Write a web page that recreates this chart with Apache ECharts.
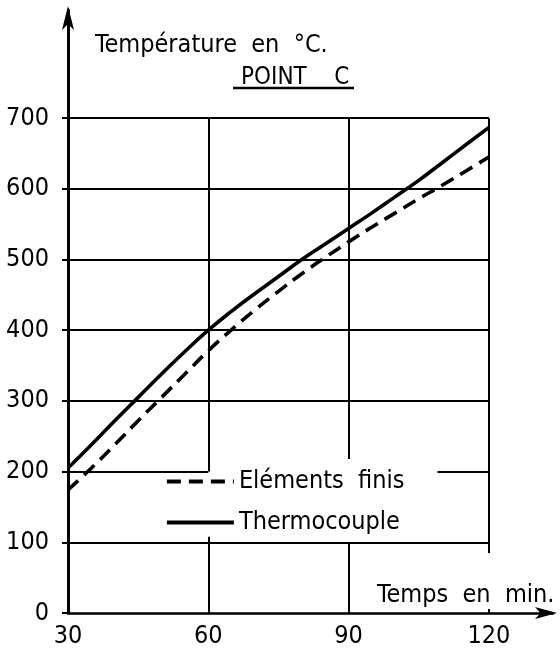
<!DOCTYPE html>
<html>
<head>
<meta charset="utf-8">
<script src="https://cdn.jsdelivr.net/npm/echarts@6/dist/echarts.min.js"></script>
<style>
html,body{margin:0;padding:0;background:#fff;}
#chart{width:560px;height:653px;}
</style>
</head>
<body>
<div id="chart"></div>
<script>
// ---- data ----
const xTickLabels = [30, 60, 90, 120];
const yTickLabels = [0, 100, 200, 300, 400, 500, 600, 700];
const timeMin = [30, 35, 40, 45, 50, 55, 60, 65, 70, 75, 80, 85, 90, 95, 100, 105, 110, 115, 120];
const thermocouple = [205, 238, 272, 305, 338, 370, 400, 427, 452, 476, 500, 522, 544, 566, 589, 612, 637, 662, 687];
const elementsFinis = [174, 205, 238, 272, 305, 338, 371, 401, 429, 455, 480, 503, 525, 546, 566, 586, 605, 625, 645];
const seriesNames = ['Eléments finis', 'Thermocouple'];
const legendLabels = {'Eléments finis': 'Eléments  finis', 'Thermocouple': 'Thermocouple'};
// grid lines (data units)
const hGridFull = [100, 300, 400, 500, 600, 700];
const hGrid200 = [[30, 60], [109, 120]];
const vGridSegments = [[60, 200, 700], [60, 0, 108], [90, 218, 700], [90, 0, 100], [120, 85, 700]];

const FONT = '"DejaVu Sans Condensed", "DejaVu Sans", sans-serif';
const gridLines = [];
hGridFull.forEach(v => gridLines.push([{coord: [30, v]}, {coord: [120, v]}]));
hGrid200.forEach(s => gridLines.push([{coord: [s[0], 200]}, {coord: [s[1], 200]}]));
vGridSegments.forEach(s => gridLines.push([{coord: [s[0], s[1]]}, {coord: [s[0], s[2]]}]));

const chart = echarts.init(document.getElementById('chart'), null, {renderer: 'canvas'});
chart.setOption({
  backgroundColor: '#fff',
  animation: false,
  title: [
    {text: 'Température  en  °C.', left: 90, top: 28, textStyle: {fontFamily: FONT, fontSize: 25, fontWeight: 'normal', color: '#000'}},
    {text: 'POINT    C', left: 236, top: 61, textStyle: {fontFamily: FONT, fontSize: 24, fontWeight: 'normal', color: '#000'}},
    {text: 'Temps  en  min.', left: 372, top: 578, textStyle: {fontFamily: FONT, fontSize: 25, fontWeight: 'normal', color: '#000'}}
  ],
  graphic: [
    {type: 'line', shape: {x1: 233, y1: 88, x2: 354, y2: 88}, style: {stroke: '#000', lineWidth: 2.5}}
  ],
  grid: {left: 68, right: 7, top: 10, bottom: 40, containLabel: false},
  legend: {
    data: seriesNames,
    orient: 'vertical',
    left: 165, top: 469,
    itemWidth: 67, itemHeight: 14, itemGap: 16,
    padding: 0,
    lineStyle: {width: 3.8},
    formatter: n => legendLabels[n],
    textStyle: {fontFamily: FONT, fontSize: 25, color: '#000'}
  },
  xAxis: {
    type: 'value', min: 30, max: 133.7, interval: 30,
    axisLine: {show: true, lineStyle: {color: '#000', width: 2.5}, symbol: ['none', 'arrow'], symbolSize: [9, 22], symbolOffset: [0, 4]},
    axisTick: {show: true, inside: true, length: 4, lineStyle: {color: '#000', width: 2}, customValues: [60, 90, 120]},
    axisLabel: {customValues: xTickLabels, margin: 11, fontFamily: FONT, fontSize: 25, color: '#000'},
    splitLine: {show: false}
  },
  yAxis: {
    type: 'value', min: 0, max: 853, interval: 100,
    axisLine: {show: true, lineStyle: {color: '#000', width: 3}, symbol: ['none', 'arrow'], symbolSize: [9, 24], symbolOffset: [0, 4]},
    axisTick: {show: true, length: 6, lineStyle: {color: '#000', width: 2}, customValues: yTickLabels},
    axisLabel: {customValues: yTickLabels, margin: 19, fontFamily: FONT, fontSize: 25, color: '#000'},
    splitLine: {show: false}
  },
  series: [
    {
      name: 'grid', type: 'line', data: [], silent: true,
      markLine: {silent: true, symbol: 'none', label: {show: false},
        lineStyle: {color: '#000', width: 2, type: 'solid'}, data: gridLines, animation: false}
    },
    {
      name: 'Thermocouple', type: 'line', smooth: 0.5, symbol: 'none', showSymbol: false, z: 3,
      data: timeMin.map((t, i) => [t, thermocouple[i]]),
      lineStyle: {color: '#000', width: 3.6, type: 'solid'}, itemStyle: {color: '#000', opacity: 0}
    },
    {
      name: 'Eléments finis', type: 'line', smooth: 0.5, symbol: 'none', showSymbol: false, z: 3,
      data: timeMin.map((t, i) => [t, elementsFinis[i]]),
      lineStyle: {color: '#000', width: 3.6, type: [14, 8]}, itemStyle: {color: '#000', opacity: 0}
    }
  ]
});
</script>
</body>
</html>
